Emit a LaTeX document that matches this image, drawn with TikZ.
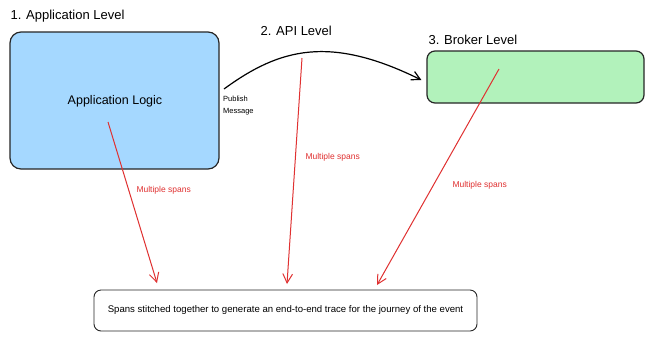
\documentclass[tikz,border=0pt]{standalone}
\usepackage{fontspec}
\setmainfont{Liberation Sans}
\usepackage{tikz}
\usetikzlibrary{arrows.meta}
\definecolor{boxblue}{HTML}{A5D8FF}
\definecolor{boxgreen}{HTML}{B2F2BB}
\definecolor{spanred}{HTML}{E03131}
\tikzset{
  levelbox/.style  = {draw=black!85,line width=1.2pt,rounded corners=11pt,inner sep=0pt},
  titletxt/.style  = {font=\fontsize{13}{15}\selectfont,anchor=west},
  spanarr/.style   = {-{Straight Barb[length=3.2mm,width=3.4mm]},spanred,line width=1pt},
  flowarr/.style   = {-{Straight Barb[length=3mm,width=3.2mm]},line width=1.2pt},
  spanlbl/.style   = {font=\fontsize{8.5}{10}\selectfont,text=spanred,anchor=west}
}

\begin{document}
\begin{tikzpicture}[x=1pt,y=-1pt]
  \useasboundingbox[fill=white] (0,0) rectangle (650,341);
  % level boxes
  \node[levelbox,fill=boxblue,minimum width=209pt,minimum height=137pt] (app) at (114.5,100.5) {};
  \node[levelbox,fill=boxgreen,minimum width=217pt,minimum height=52pt,rounded corners=8pt] (broker) at (535.5,77) {};
  \node[levelbox,rounded corners=7pt,line width=0.9pt,minimum width=383pt,minimum height=41pt] (trace) at (285.5,310.5)
    {\fontsize{9.6}{11}\selectfont Spans stitched together to generate an end-to-end trace for the journey of the event};
  % titles
  \node[titletxt] (apptitle) at (7,16) {1. Application Level};
  \node[titletxt] (apititle) at (257,31) {2. API Level};
  \node[titletxt] (brokertitle) at (425,40) {3. Broker Level};
  \node[font=\fontsize{12.5}{14}\selectfont] (logic) at (115,101) {Application Logic};
  \node[anchor=north west,align=left,inner sep=0pt,font=\fontsize{7.5}{11.5}\selectfont] (pubmsg) at (223,96) {Publish\\Message};
  % span sources and targets
  \coordinate (appspan) at (108,122);
  \coordinate (apispan) at (302,58);
  \coordinate (brokerspan) at (499,69);
  \coordinate (pubstart) at (224,89);
  \coordinate (t1) at (157,283);
  \coordinate (t2) at (287,284);
  \coordinate (t3) at (377,285);
  % message flow
  \draw[flowarr] (pubstart) .. controls (280,48) and (330,35) .. ([xshift=-5pt,yshift=-3pt]broker.west);
  % spans
  \draw[spanarr] (appspan) -- (t1);
  \draw[spanarr] (apispan) -- (t2);
  \draw[spanarr] (brokerspan) -- (t3);
  \node[spanlbl] (lbl1) at (133,190) {Multiple spans};
  \node[spanlbl] (lbl2) at (302,157) {Multiple spans};
  \node[spanlbl] (lbl3) at (449,185) {Multiple spans};
\end{tikzpicture}
\end{document}
